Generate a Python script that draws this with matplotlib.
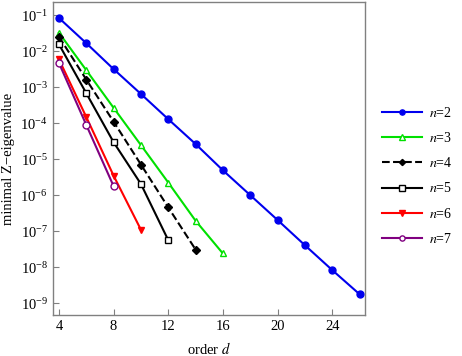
import numpy as np
import matplotlib
matplotlib.use('Agg')
import matplotlib.pyplot as plt

plt.rcParams['font.family'] = ['Liberation Serif', 'DejaVu Serif']
plt.rcParams['mathtext.fontset'] = 'stix'
plt.rcParams['font.size'] = 10

# values (log10 of the minimal Z-eigenvalue)
d2 = [4, 6, 8, 10, 12, 14, 16, 18, 20, 22, 24, 26]
log2 = [-1.08, -1.78, -2.50, -3.19, -3.89, -4.58, -5.31, -6.00, -6.69, -7.39, -8.08, -8.75]
d3 = [4, 6, 8, 10, 12, 14, 16]
log3 = [-1.49, -2.53, -3.575, -4.61, -5.65, -6.71, -7.62]
d4 = [4, 6, 8, 10, 12, 14]
log4 = [-1.60, -2.79, -3.96, -5.15, -6.34, -7.51]
d5 = [4, 6, 8, 10, 12]
log5 = [-1.81, -3.17, -4.53, -5.69, -7.25]
d6 = [4, 6, 8, 10]
log6 = [-2.23, -3.83, -5.46, -6.96]
d7 = [4, 6, 8]
log7 = [-2.33, -4.05, -5.75]

series = [
    (d2, log2, '$n$=2', '#0000ee', '-', 'o', True),
    (d3, log3, '$n$=3', '#00e000', '-', '^', False),
    (d4, log4, '$n$=4', 'black', '--', 'D', True),
    (d5, log5, '$n$=5', 'black', '-', 's', False),
    (d6, log6, '$n$=6', '#ff0000', '-', 'v', True),
    (d7, log7, '$n$=7', '#800080', '-', 'o', False),
]

fig = plt.figure(figsize=(4.62, 3.56), dpi=100)
ax = fig.add_axes([0.114, 0.115, 0.676, 0.879])

for d, lg, lab, c, ls, m, filled in series:
    ms = 5 if m != 'D' else 4.2
    ax.semilogy(d, 10.0 ** np.array(lg), color=c, ls=ls, lw=1.5, marker=m,
                ms=ms, mfc=c if filled else 'white', mec=c, mew=1.0, label=lab)

ax.set_xlim(3.54, 26.4)
ax.set_ylim(10 ** -9.33, 10 ** -0.64)
ax.set_xticks([4, 8, 12, 16, 20, 24])
ax.set_yticks([10.0 ** k for k in range(-9, 0)])
ax.yaxis.set_minor_locator(matplotlib.ticker.NullLocator())
ax.tick_params(direction='in', length=4, width=0.8, color='#808080', labelsize=10.5)
for s in ax.spines.values():
    s.set_color('#808080')
    s.set_linewidth(1.0)

ax.set_xlabel('order $d$', fontsize=10.5, labelpad=5.5)
ax.set_ylabel('minimal Z\u2212eigenvalue', fontsize=10.5, labelpad=3.5)

fig.legend(loc='center left', bbox_to_anchor=(0.812, 0.506), frameon=False,
           borderpad=0, handlelength=2.9, handletextpad=0.5, labelspacing=0.8,
           markerscale=0.75, fontsize=10)

fig.savefig('out.png', dpi=100)
